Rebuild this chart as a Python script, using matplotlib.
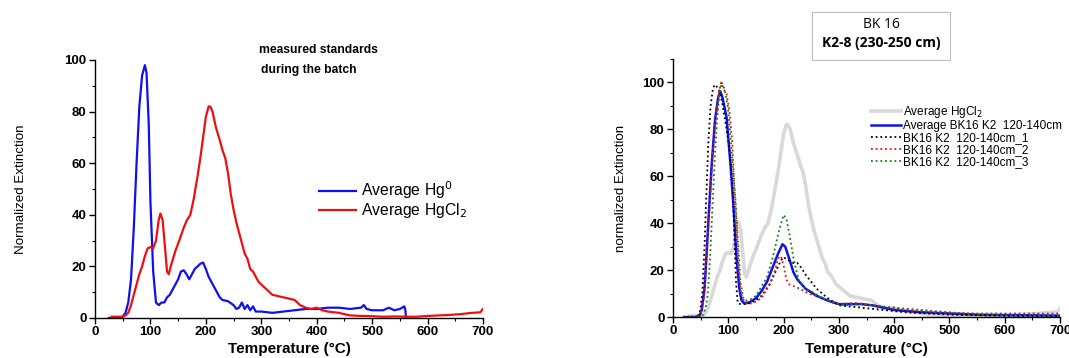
import matplotlib
matplotlib.use("Agg")
import matplotlib.pyplot as plt
from matplotlib.ticker import MultipleLocator
from matplotlib.patches import Rectangle
from matplotlib import font_manager

plt.rcParams['font.family'] = ['Liberation Sans', 'DejaVu Sans']

# ---- Left panel data ----
hg0_t = [25, 40, 50, 55, 60, 65, 70, 75, 80, 85, 90, 93, 97, 100, 105, 110, 115, 120, 125, 130, 135,
         140, 145, 150, 155, 160, 165, 170, 175, 180, 185, 190, 195, 200, 205, 210, 215, 220, 225,
         230, 240, 250, 255, 260, 265, 270, 275, 280, 285, 290, 300, 320, 340, 360, 380, 400, 420,
         440, 460, 480, 485, 490, 500, 520, 530, 540, 550, 558, 560, 561]
hg0_v = [0, 0, 0.5, 2, 6, 15, 35, 60, 82, 94, 98, 95, 75, 45, 18, 6, 5, 6, 6, 8, 9,
         11, 13, 15, 18, 18.5, 17, 15, 17, 19, 20, 21, 21.5, 19, 16, 14, 12, 10, 8,
         7, 6.5, 5, 3.5, 4, 6, 3.5, 5, 3, 4.5, 2.5, 2.5, 2, 2.5, 3, 3.5, 3.5, 4,
         4, 3.5, 4, 5, 3.5, 3, 3, 4, 3, 3.5, 4.5, 3, 0]

hgcl2_t = [30, 40, 50, 55, 60, 65, 70, 75, 80, 85, 90, 95, 100, 105, 110, 115, 118, 122, 126, 130,
           133, 138, 145, 152, 160, 166, 172, 178, 185, 190, 195, 200, 205, 208, 212, 218, 225,
           230, 235, 240, 245, 250, 255, 260, 265, 270, 275, 280, 285, 290, 295, 300, 310, 320,
           330, 340, 350, 360, 365, 370, 380, 390, 400, 410, 420, 440, 460, 480, 500, 520, 540,
           560, 580, 600, 620, 640, 660, 680, 695, 700]
hgcl2_v = [0.5, 0.5, 0.5, 1, 2, 5, 9, 13, 17, 20, 24, 27, 27.5, 27, 30, 38, 40.5, 38, 28, 18,
           17, 21, 26, 30, 35, 38, 40, 46, 55, 62, 70, 78, 82, 82, 80, 74, 69,
           65, 62, 56, 48, 42, 37, 33, 29, 25, 23, 19, 18, 16, 14, 13, 11, 9,
           8.5, 8, 7.5, 7, 6, 5, 4, 3.5, 4, 3, 2.5, 2, 1, 0.8, 0.7, 0.5, 0.6,
           0.5, 0.5, 0.8, 1, 1.2, 1.5, 2, 2.2, 3.5]

# ---- Right panel data ----
avg_t = [20, 40, 48, 52, 57, 61, 65, 70, 76, 82, 86, 90, 97, 104, 110, 115, 120, 124, 128, 135,
         140, 150, 160, 170, 180, 190, 198, 203, 210, 218, 225, 240, 260, 280, 300, 320, 340,
         360, 380, 400, 450, 500, 550, 600, 650, 700]
avg_v = [0, 0, 0.5, 3, 12, 28, 45, 65, 84, 94, 96, 93, 85, 65, 45, 25, 12, 7, 6, 6,
         6.5, 8, 11, 15, 21, 27, 31, 30, 25, 19, 16, 12, 9, 7, 5.5, 5.5, 5.5,
         5, 4, 3, 2, 1.5, 1, 0.8, 0.7, 0.6]

s1_t = [20, 40, 48, 53, 57, 60, 64, 68, 72, 75, 80, 85, 90, 97, 103, 108, 111, 114, 117, 122,
        130, 140, 150, 160, 175, 185, 195, 200, 210, 218, 225, 232, 240, 250, 260, 280, 300,
        340, 380, 420, 500, 600, 700]
s1_v = [0, 0, 1, 10, 30, 50, 75, 90, 97, 99, 98, 96, 90, 80, 70, 55, 35, 15, 6, 5.5,
        5.5, 6, 7, 9, 14, 19, 24, 25.5, 24, 23, 23, 21, 18, 15, 12, 8, 5,
        4, 3, 2, 1, 0.5, 0.3]

s2_t = [20, 40, 48, 53, 57, 62, 67, 72, 77, 82, 87, 92, 97, 102, 107, 111, 115, 119, 123, 130,
        135, 145, 160, 175, 185, 190, 195, 200, 205, 210, 220, 230, 245, 260, 280, 300, 330,
        360, 390, 420, 480, 550, 620, 700]
s2_v = [0, 0, 0.5, 4, 10, 30, 50, 70, 85, 95, 100, 97, 95, 88, 75, 55, 40, 20, 10, 6,
        5.5, 6, 8, 14, 20, 25, 26, 22, 16, 14, 13, 12, 10, 9, 7, 5.5, 6,
        5, 4, 3, 2, 1.5, 1.5, 1.5]

s3_t = [20, 40, 50, 55, 60, 63, 67, 72, 76, 80, 84, 88, 92, 95, 99, 103, 108, 113, 118, 122,
        127, 132, 140, 150, 160, 170, 180, 185, 192, 200, 205, 210, 218, 228, 240, 250, 270,
        290, 310, 340, 360, 400, 450, 500, 550, 600, 700]
s3_v = [0, 0, 0, 1, 5, 10, 25, 50, 70, 85, 95, 100, 98, 95, 90, 80, 65, 50, 30, 15,
        8, 7, 7.5, 9, 13, 17, 25, 30, 37, 43.5, 42, 36, 25, 15, 12, 11, 8,
        6, 5, 5.5, 5, 4, 3, 2, 1, 0.8, 0.5]

fig = plt.figure(figsize=(10.69, 3.58), dpi=100)
W, H = 1069, 358

names = {f.name for f in font_manager.fontManager.ttflist}
if 'Liberation Sans Narrow' in names:
    ylab_family, ylab_size = ['Liberation Sans Narrow', 'DejaVu Sans'], 10.8
else:
    ylab_family, ylab_size = ['Liberation Sans', 'DejaVu Sans'], 9.6

def style_axes(ax, ymax, ymajor, label, pad):
    ax.set_xlim(0, 700)
    ax.set_ylim(0, ymax)
    ax.xaxis.set_major_locator(MultipleLocator(100))
    ax.xaxis.set_minor_locator(MultipleLocator(50))
    ax.yaxis.set_major_locator(MultipleLocator(ymajor))
    ax.yaxis.set_minor_locator(MultipleLocator(10))
    ax.spines['top'].set_visible(False)
    ax.spines['right'].set_visible(False)
    for sp in ('left', 'bottom'):
        ax.spines[sp].set_linewidth(1.0)
    ax.tick_params(which='major', direction='out', length=4, width=1, labelsize=9.5, pad=2)
    ax.tick_params(which='minor', direction='out', length=2.5, width=0.8)
    for lab in ax.get_xticklabels() + ax.get_yticklabels():
        lab.set_fontweight('bold')
    ax.set_xlabel('Temperature (\u00b0C)', fontsize=11, fontweight='bold', labelpad=3)
    ax.set_ylabel(label, fontsize=ylab_size, labelpad=pad, family=ylab_family)

# Left panel
ax1 = fig.add_axes([95 / W, (H - 318) / H, 388 / W, 258 / H])
ax1.plot(hg0_t, hg0_v, color='#1010ee', lw=1.6, label='Average Hg$^0$')
ax1.plot(hgcl2_t, hgcl2_v, color='#ee1010', lw=1.6, label='Average HgCl$_2$')
style_axes(ax1, 100, 20, 'Normalized Extinction', 27)
ax1.legend(loc='upper left', bbox_to_anchor=(0.56, 0.56), frameon=False, fontsize=11.3,
           handlelength=2.4, handletextpad=0.3, labelspacing=0.0, borderaxespad=0)
fig.text(318 / W, 1 - 50 / H, 'measured standards', fontsize=8.7, fontweight='bold',
         ha='center', va='center')
fig.text(309 / W, 1 - 70 / H, 'during the batch', fontsize=8.7, fontweight='bold',
         ha='center', va='center')

# Right panel
ax2 = fig.add_axes([673 / W, (H - 317) / H, 387 / W, 258 / H])
ax2.plot(hgcl2_t, hgcl2_v, color='#d9d9d9', lw=2.6, label='Average HgCl$_2$')
ax2.plot(avg_t, avg_v, color='#1010ee', lw=1.8, label='Average BK16 K2  120-140cm')
ax2.plot(s1_t, s1_v, color='black', lw=1.3, ls=(0, (1, 1.6)), label='BK16 K2  120-140cm_1')
ax2.plot(s2_t, s2_v, color='#ee1010', lw=1.3, ls=(0, (1, 1.6)), label='BK16 K2  120-140cm_2')
ax2.plot(s3_t, s3_v, color='#108010', lw=1.3, ls=(0, (1, 1.6)), label='BK16 K2  120-140cm_3')
style_axes(ax2, 110, 20, 'normalized Extinction', 11)
ax2.legend(loc='upper left', bbox_to_anchor=(0.50, 0.845), frameon=False, fontsize=8.5,
           handlelength=2.5, handletextpad=0.2, labelspacing=0.0, borderaxespad=0)

# Title box
fig.patches.append(Rectangle((812 / W, 1 - 60 / H), 138 / W, 48 / H, transform=fig.transFigure,
                             facecolor='white', edgecolor='#bfbfbf', lw=0.8))
fig.text(881 / W, 1 - 25 / H, 'BK 16', fontsize=10, ha='center', va='center',
         family=['Open Sans', 'DejaVu Sans'])
fig.text(881 / W, 1 - 43 / H, 'K2-8 (230-250 cm)', fontsize=10, fontweight='bold',
         ha='center', va='center', family=['Open Sans', 'DejaVu Sans'])

fig.savefig('out.png', dpi=100)
